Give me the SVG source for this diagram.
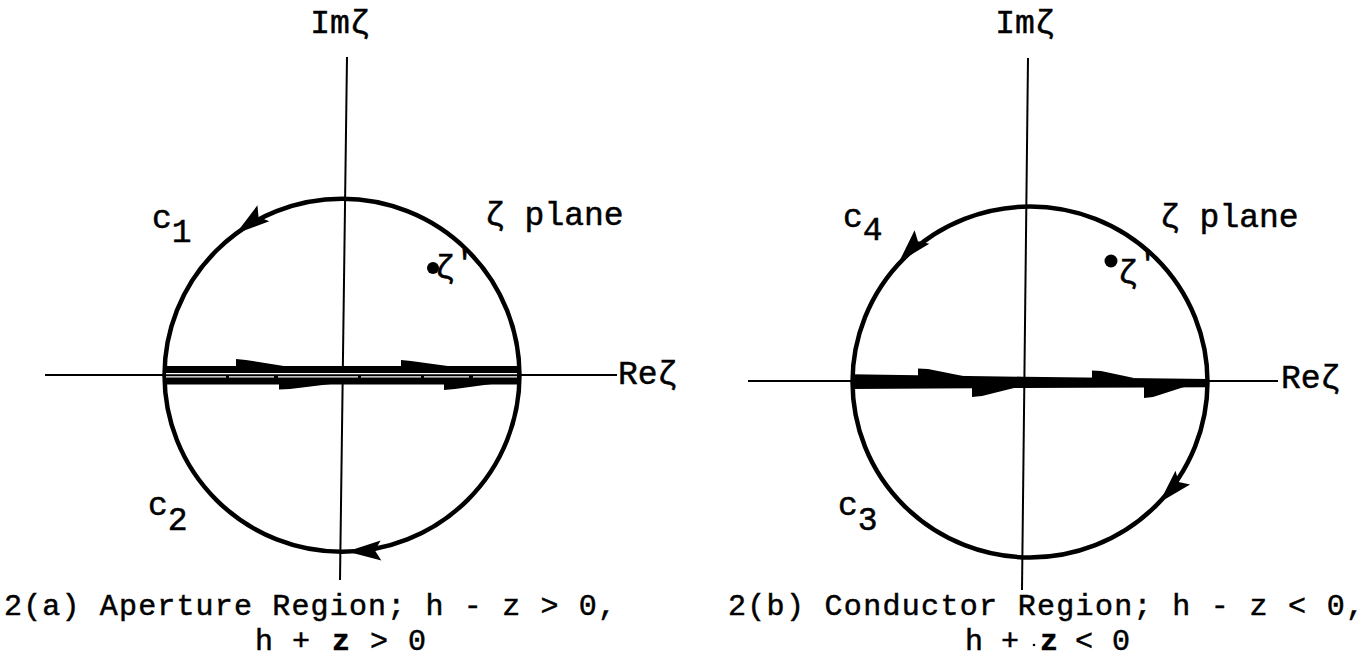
<svg xmlns="http://www.w3.org/2000/svg" width="1370" height="659" viewBox="0 0 1370 659">
<style>
  text { font-family: "Liberation Mono", "DejaVu Sans Mono", monospace; font-size: 33px; fill: #000; stroke: #000; stroke-width: 0.5; }
  .cap { font-size: 30px; }
  .axis { stroke: #000; stroke-width: 2; fill: none; }
  .contour { stroke: #000; stroke-width: 4.5; fill: none; }
  .head { fill: #000; stroke: none; }
  .gap { stroke: #fff; stroke-width: 1.3; }
</style>
<defs>
  <polygon id="ah" points="0,0 -34,-10 -28,0 -34,10"/>
</defs>
<rect width="1370" height="659" fill="#fff"/>

<g id="connectors">
  <!-- figure (a) axes -->
  <line class="axis" x1="347" y1="57" x2="340" y2="580"/>
  <line class="axis" x1="45" y1="375" x2="617" y2="375"/>
  <!-- figure (b) axes -->
  <line class="axis" x1="1028" y1="58" x2="1022" y2="590"/>
  <line class="axis" x1="748" y1="381" x2="1278" y2="381"/>

  <!-- contour (a) -->
  <ellipse class="contour" cx="342" cy="375.3" rx="177.5" ry="176.5"/>
  <rect x="164" y="366" width="355" height="18.5" fill="#000"/>
  <line class="gap" x1="166" y1="373.6" x2="517" y2="373.6"/>
  <line class="gap" x1="166" y1="376.9" x2="517" y2="376.9" stroke-dasharray="60 3 45 4 80 3"/>
  <polygon class="head" points="236,367 236,359 246,360 290,367"/>
  <polygon class="head" points="401,367 401,360 411,361 455,367"/>
  <polygon class="head" points="279,383 279,389.5 290,389 339,383"/>
  <polygon class="head" points="444,383 444,390 455,389 499,383"/>
  <use href="#ah" class="head" transform="translate(236,233.5) rotate(143.6)"/>
  <use href="#ah" class="head" transform="translate(347,551.6) rotate(178)"/>

  <!-- contour (b) -->
  <ellipse class="contour" cx="1030" cy="382" rx="177.5" ry="175.5"/>
  <polygon fill="#000" points="851,374.3 1023,376.7 1209,379 1209,387.3 1023,388 851,389"/>
  <polygon class="head" points="918,376 918,368.5 928,369 963,376"/>
  <polygon class="head" points="972,388 972,397 982,396 1014,388"/>
  <polygon class="head" points="1092,378 1092,370.5 1101,371 1134,378"/>
  <polygon class="head" points="1144,387 1144,398 1153,397 1184,387"/>
  <use href="#ah" class="head" transform="translate(899,262) rotate(132.5)"/>
  <use href="#ah" class="head" transform="translate(1159.5,502.5) rotate(133.2)"/>
</g>

<g id="fig-a-labels">
  <text x="340" y="33" text-anchor="middle">Imζ</text>
  <text x="618" y="384">Reζ</text>
  <text x="485" y="225">ζ plane</text>
  <circle cx="433" cy="268" r="6"/>
  <text x="435" y="278">ζ<tspan dy="-5">'</tspan></text>
  <text x="152" y="228">c<tspan dy="14">1</tspan></text>
  <text x="148" y="515">c<tspan dy="15">2</tspan></text>
</g>

<g id="fig-b-labels">
  <text x="1025" y="33" text-anchor="middle">Imζ</text>
  <text x="1281" y="388">Reζ</text>
  <text x="1160" y="227">ζ plane</text>
  <circle cx="1111" cy="261" r="6.5"/>
  <text x="1118" y="283">ζ<tspan dy="-9">'</tspan></text>
  <text x="843" y="227">c<tspan dy="13">4</tspan></text>
  <text x="838" y="515">c<tspan dy="15">3</tspan></text>
</g>

<g id="captions">
  <text class="cap" x="4" y="615" textLength="612" lengthAdjust="spacing">2(a) Aperture Region; h - z &gt; 0,</text>
  <text class="cap" y="650"><tspan x="255">h</tspan><tspan x="292">+</tspan><tspan x="332" font-weight="bold">z</tspan><tspan x="370">&gt;</tspan><tspan x="408">0</tspan></text>
  <text class="cap" x="728" y="615" textLength="636" lengthAdjust="spacing">2(b) Conductor Region; h - z &lt; 0,</text>
  <text class="cap" y="650"><tspan x="965">h</tspan><tspan x="1001">+</tspan><tspan x="1040" font-weight="bold">z</tspan><tspan x="1075">&lt;</tspan><tspan x="1112">0</tspan></text>
  <circle cx="1034" cy="645" r="1.3"/>
</g>
</svg>
